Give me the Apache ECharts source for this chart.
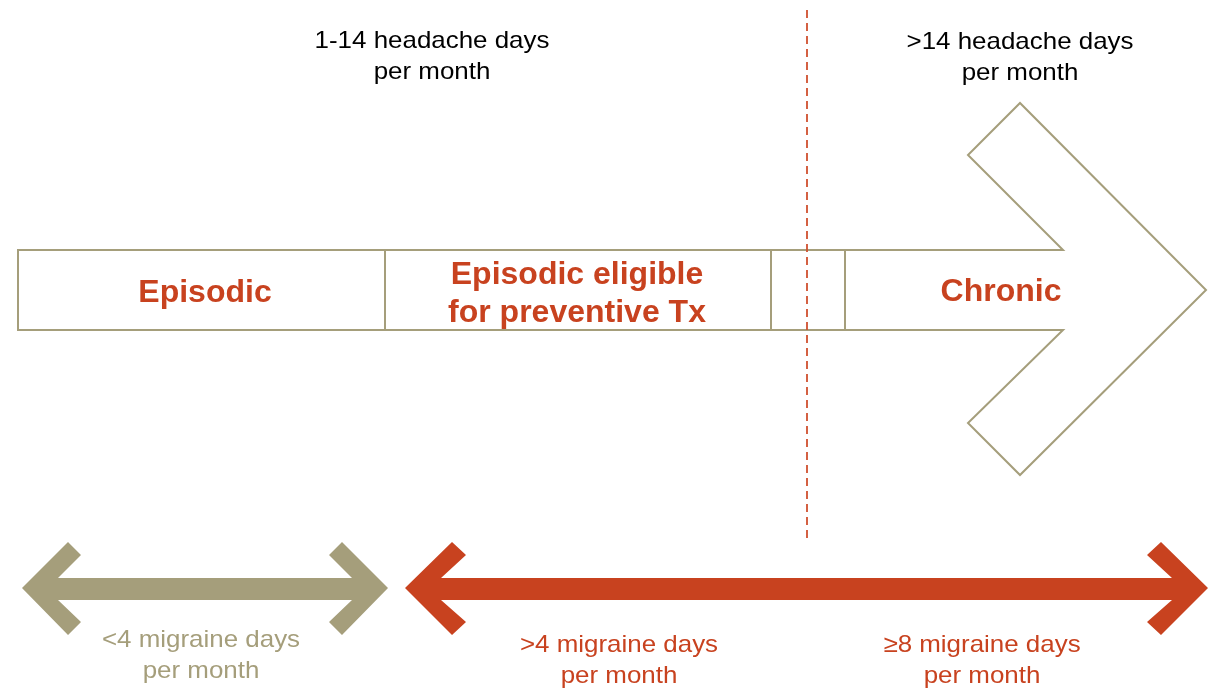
<!DOCTYPE html>
<html>
<head>
<meta charset="utf-8">
<script src="https://cdn.jsdelivr.net/npm/echarts@6/dist/echarts.min.js"></script>
<style>
html,body{margin:0;padding:0;background:#ffffff;}
#chart{width:1218px;height:688px;}
</style>
</head>
<body>
<div id="chart"></div>
<script>
// ---- diagram data (diagram units = axis values) ----
const headacheLabels = ['1-14 headache days\nper month', '>14 headache days\nper month'];
const headacheLabelAt = [[432, 57], [1020, 58]];

const stageLabels = ['Episodic', 'Episodic eligible\nfor preventive Tx', 'Chronic'];
const stageLabelAt = [[205, 293], [577, 294], [1001, 292]];

const migraineLabels = ['<4 migraine days\nper month', '>4 migraine days\nper month', '\u22658 migraine days\nper month'];
const migraineLabelAt = [[201, 656], [619, 661], [982, 661]];

// band (arrow outline) vertices and segment dividers
const bandOutline = [[18, 250], [1063, 250], [968, 155], [1020, 103], [1206, 290], [1020, 475], [968, 423], [1063, 330], [18, 330]];
const dividerX = [385, 771, 845];
const bandTopBottom = [250, 330];

// threshold (dashed) line
const thresholdLine = [[807, 10], [807, 540]];

// double arrows
const tanArrow = [[22, 588], [68, 542], [81, 555], [58, 578], [352, 578], [329, 555], [342, 542], [388, 588], [342, 635], [329, 622], [352, 600], [58, 600], [81, 622], [68, 635]];
const redArrow = [[405, 588], [452, 542], [466, 555], [441, 578], [1172, 578], [1147, 555], [1161, 542], [1208, 588], [1161, 635], [1147, 622], [1172, 600], [441, 600], [466, 622], [452, 635]];

// ---- styles ----
const TAN = '#A59E7B';
const RED = '#C8421F';
const DASH = '#D0502F';
const FONT = '"Liberation Sans", Arial, Helvetica, sans-serif';

const shapes = [
  { kind: 'fill', pts: tanArrow, color: TAN },
  { kind: 'fill', pts: redArrow, color: RED },
  { kind: 'outline', pts: bandOutline, color: TAN }
].concat(dividerX.map(x => ({ kind: 'line', pts: [[x, bandTopBottom[0]], [x, bandTopBottom[1]]], color: TAN })));

const texts = []
  .concat(headacheLabels.map((t, i) => ({ t, at: headacheLabelAt[i], color: '#000000', size: 24, weight: 'normal', lh: 31, sx: 1.08 })))
  .concat(stageLabels.map((t, i) => ({ t, at: stageLabelAt[i], color: RED, size: 32, weight: 'bold', lh: 38, sx: 1 })))
  .concat(migraineLabels.map((t, i) => ({ t, at: migraineLabelAt[i], color: i === 0 ? TAN : RED, size: 24, weight: 'normal', lh: 31, sx: 1.08 })));

const chart = echarts.init(document.getElementById('chart'), null, { renderer: 'canvas' });

chart.setOption({
  animation: false,
  backgroundColor: '#ffffff',
  grid: { left: 0, right: 0, top: 0, bottom: 0 },
  xAxis: { type: 'value', min: 0, max: 1218, show: false },
  yAxis: { type: 'value', min: 0, max: 688, inverse: true, show: false },
  series: [
    {
      type: 'custom',
      clip: false,
      silent: true,
      z: 2,
      data: shapes.map(s => s.pts[0]),
      renderItem: function (params, api) {
        const s = shapes[params.dataIndex];
        const pts = s.pts.map(p => api.coord(p));
        if (s.kind === 'fill') {
          return { type: 'polygon', shape: { points: pts }, style: { fill: s.color, stroke: null } };
        }
        if (s.kind === 'outline') {
          return { type: 'polygon', shape: { points: pts }, style: { fill: 'none', stroke: s.color, lineWidth: 2 } };
        }
        return { type: 'polyline', shape: { points: pts }, style: { fill: 'none', stroke: s.color, lineWidth: 2 } };
      }
    },
    {
      type: 'line',
      silent: true,
      z: 3,
      symbol: 'none',
      data: thresholdLine,
      lineStyle: { color: DASH, width: 1.8, type: [8, 5] }
    },
    {
      type: 'custom',
      clip: false,
      silent: true,
      z: 4,
      data: texts.map(t => t.at),
      renderItem: function (params, api) {
        const t = texts[params.dataIndex];
        const p = api.coord(t.at);
        return {
          type: 'text',
          x: p[0],
          y: p[1],
          scaleX: t.sx,
          style: {
            x: 0,
            y: 0,
            text: t.t,
            fill: t.color,
            fontSize: t.size,
            fontWeight: t.weight,
            fontFamily: FONT,
            lineHeight: t.lh,
            align: 'center',
            verticalAlign: 'middle'
          }
        };
      }
    }
  ]
});
</script>
</body>
</html>
